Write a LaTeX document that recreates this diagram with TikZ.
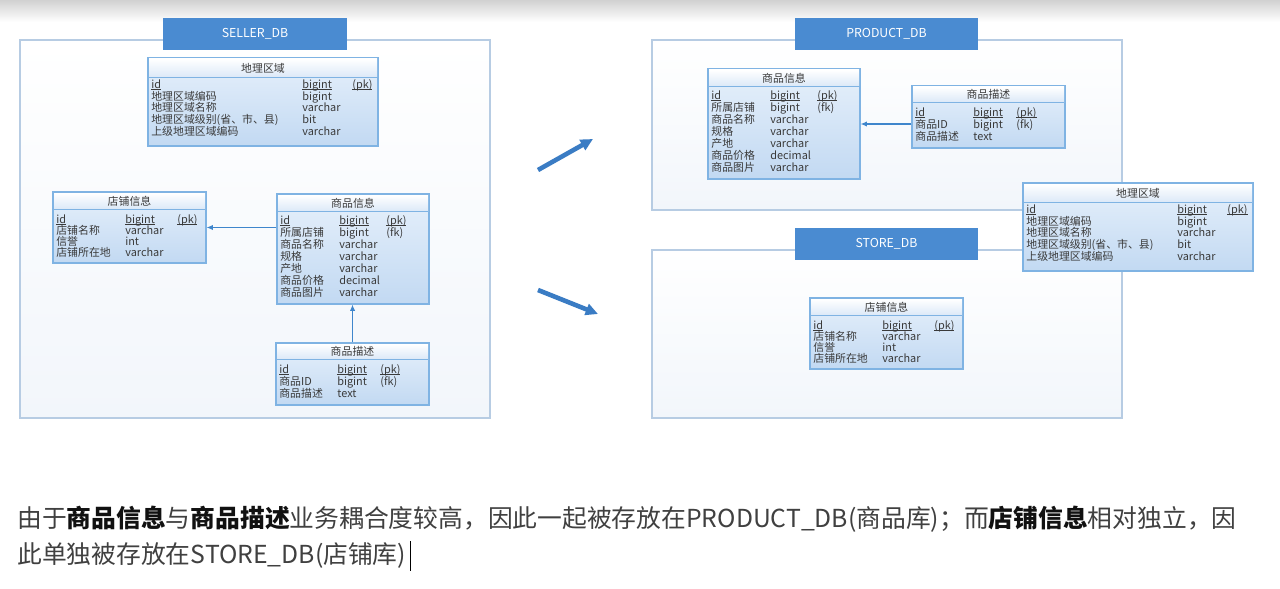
\documentclass[tikz,border=0pt]{standalone}
\usepackage{fontspec}
\setmainfont{Noto Sans CJK SC}
\usepackage{tikz}
\usetikzlibrary{arrows.meta}
\usetikzlibrary{fit}

\definecolor{hdrblue}{HTML}{4A8BD1}
\definecolor{boxline}{HTML}{B7CCE3}
\definecolor{boxfill}{HTML}{F2F6FB}
\definecolor{tblline}{HTML}{7FB3E3}
\definecolor{tbltop}{HTML}{E6F0FB}
\definecolor{tblbot}{HTML}{C2D9F2}
\definecolor{ttlbot}{HTML}{DCE9F8}
\definecolor{celltext}{HTML}{3A3A3A}
\definecolor{lnkblue}{HTML}{3F86CC}
\definecolor{arrblue}{HTML}{3A7CC4}
\definecolor{txtgray}{HTML}{404040}
\definecolor{txtdark}{HTML}{111111}
\newcommand\keyword[1]{{\bfseries\color{txtdark}#1}}
\newcommand\keyline[1]{{\setbox0\hbox{#1}\rlap{\rule[-0.7pt]{\wd0}{0.35pt}}\box0}}

\begin{document}
\begin{tikzpicture}[x=0.02cm,y=-0.02cm,
  box/.style={draw=boxline, top color=white, bottom color=boxfill, line width=0.8pt, inner sep=0pt},
  hdr/.style={fill=hdrblue, inner sep=0pt},
  hdrtext/.style={text=white, inner sep=0pt, font=\fontsize{7}{8}\selectfont},
  tbl/.style={draw=tblline, top color=tbltop, bottom color=tblbot, line width=0.7pt, inner sep=0pt},
  ttl/.style={top color=white, bottom color=ttlbot, inner sep=0pt},
  ttltext/.style={inner sep=0pt, text=celltext, font=\fontsize{6.2}{7}\selectfont},
  cell/.style={anchor=west, inner sep=0pt, text height=4.6pt, text depth=1.1pt, yshift=-1.3pt,
    text=celltext, font=\fontsize{6.2}{7}\selectfont},
  lnk/.style={-{Latex[length=3.5pt,width=3pt]}, draw=lnkblue, line width=0.6pt},
  bigarrow/.style={-{Triangle[length=7pt,width=6.5pt]}, draw=arrblue, line width=2.6pt},
  txt/.style={anchor=west, inner sep=0pt, text=txtgray, font=\fontsize{14.1}{16}\selectfont}]
\useasboundingbox (0,0) rectangle (1280,588);
\fill[white] (0,0) rectangle (1280,588);
\shade[top color=black!18, bottom color=white] (0,0) rectangle (1280,22);

% database containers
\node[box, fit={(20,40) (490,418)}] (seller) {};
\node[box, fit={(652,40) (1122,210)}] (product) {};
\node[box, fit={(652,250) (1122,418)}] (store) {};
\node[hdr, fit={(163,18) (347,50)}] (sellerhdr) {};
\node[hdr, fit={(795,18) (978,50)}] (producthdr) {};
\node[hdr, fit={(795,228) (978,260)}] (storehdr) {};
\node[hdrtext] (sellername) at (sellerhdr.center) {SELLER\_DB};
\node[hdrtext] (productname) at (producthdr.center) {PRODUCT\_DB};
\node[hdrtext] (storename) at (storehdr.center) {STORE\_DB};

% split arrows
\coordinate (up1) at (538,170);
\coordinate (up2) at (593,139);
\coordinate (dn1) at (538,290);
\coordinate (dn2) at (598,314);
\draw[bigarrow] (up1) -- (up2);
\draw[bigarrow] (dn1) -- (dn2);

% 店铺信息
\foreach \tb/\x/\y in {sA/53/192, sB/810/298} {
  \node[tbl, fit={(\x,\y) (\x+153,\y+71)}] (\tb) {};
  \node[ttl, fit={(\x+1,\y+1) (\x+152,\y+17)}] (\tb-t) {};
  \node[ttltext] (\tb-name) at (\tb-t.center) {店铺信息};
  \draw[tblline] (\tb-t.south west) -- (\tb-t.south east);
  \foreach \n/\t/\k [count=\i] in {\keyline{id}/\keyline{bigint}/\keyline{(pk)},
      店铺名称/varchar/{}, 信誉/int/{}, 店铺所在地/varchar/{}} {
    \node[cell] (\tb-n\i) at (\x+3,\y+15+\i*11) {\n};
    \node[cell] (\tb-t\i) at (\x+72,\y+15+\i*11) {\t};
    \node[cell] (\tb-k\i) at (\x+124,\y+15+\i*11) {\k};
  }
}

% 商品信息
\foreach \tb/\x/\y in {gA/277/194, gB/708/69} {
  \node[tbl, fit={(\x,\y) (\x+152,\y+110)}] (\tb) {};
  \node[ttl, fit={(\x+1,\y+1) (\x+151,\y+17)}] (\tb-t) {};
  \node[ttltext] (\tb-name) at (\tb-t.center) {商品信息};
  \draw[tblline] (\tb-t.south west) -- (\tb-t.south east);
  \foreach \n/\t/\k [count=\i] in {\keyline{id}/\keyline{bigint}/\keyline{(pk)},
      所属店铺/bigint/(fk), 商品名称/varchar/{}, 规格/varchar/{}, 产地/varchar/{},
      商品价格/decimal/{}, 商品图片/varchar/{}} {
    \node[cell] (\tb-n\i) at (\x+3,\y+13+\i*12) {\n};
    \node[cell] (\tb-t\i) at (\x+62,\y+13+\i*12) {\t};
    \node[cell] (\tb-k\i) at (\x+109,\y+13+\i*12) {\k};
  }
}

% 商品描述
\foreach \tb/\x/\y in {dA/276/343, dB/912/86} {
  \node[tbl, fit={(\x,\y) (\x+153,\y+62)}] (\tb) {};
  \node[ttl, fit={(\x+1,\y+1) (\x+152,\y+16)}] (\tb-t) {};
  \node[ttltext] (\tb-name) at (\tb-t.center) {商品描述};
  \draw[tblline] (\tb-t.south west) -- (\tb-t.south east);
  \foreach \n/\t/\k [count=\i] in {\keyline{id}/\keyline{bigint}/\keyline{(pk)},
      商品ID/bigint/(fk), 商品描述/text/{}} {
    \node[cell] (\tb-n\i) at (\x+3,\y+13+\i*12) {\n};
    \node[cell] (\tb-t\i) at (\x+61,\y+13+\i*12) {\t};
    \node[cell] (\tb-k\i) at (\x+104,\y+13+\i*12) {\k};
  }
}

% 地理区域
\foreach \tb/\x/\y in {rA/148/58, rB/1023/183} {
  \node[tbl, fit={(\x,\y) (\x+230,\y+88)}] (\tb) {};
  \node[ttl, fit={(\x+1,\y+1) (\x+229,\y+19)}] (\tb-t) {};
  \node[ttltext] (\tb-name) at (\tb-t.center) {地理区域};
  \draw[tblline] (\tb-t.south west) -- (\tb-t.south east);
  \foreach \n/\t/\k [count=\i] in {\keyline{id}/\keyline{bigint}/\keyline{(pk)},
      地理区域编码/bigint/{}, 地理区域名称/varchar/{},
      {地理区域级别(省、市、县)}/bit/{}, 上级地理区域编码/varchar/{}} {
    \node[cell] (\tb-n\i) at (\x+3,\y+13.2+\i*11.8) {\n};
    \node[cell] (\tb-t\i) at (\x+154,\y+13.2+\i*11.8) {\t};
    \node[cell] (\tb-k\i) at (\x+204,\y+13.2+\i*11.8) {\k};
  }
}

% references
\draw[lnk] (gA.west |- sA.east) -- (sA.east);
\draw[lnk] (dA.north) -- (dA.north |- gA.south);
\draw[lnk] (dB.west |- gB.east) -- (gB.east);

% note
\node[txt] (line1) at (17,519) {由于\keyword{商品信息}与\keyword{商品描述}业务耦合度较高，因此一起被存放在PRODUCT\_DB(商品库)；而\keyword{店铺信息}相对独立，因};
\node[txt] (line2) at (17,555) {此单独被存放在STORE\_DB(店铺库)};
\draw[black, line width=0.7pt] (line2.east) ++(4,-14) -- ++(0,30);
\end{tikzpicture}
\end{document}
